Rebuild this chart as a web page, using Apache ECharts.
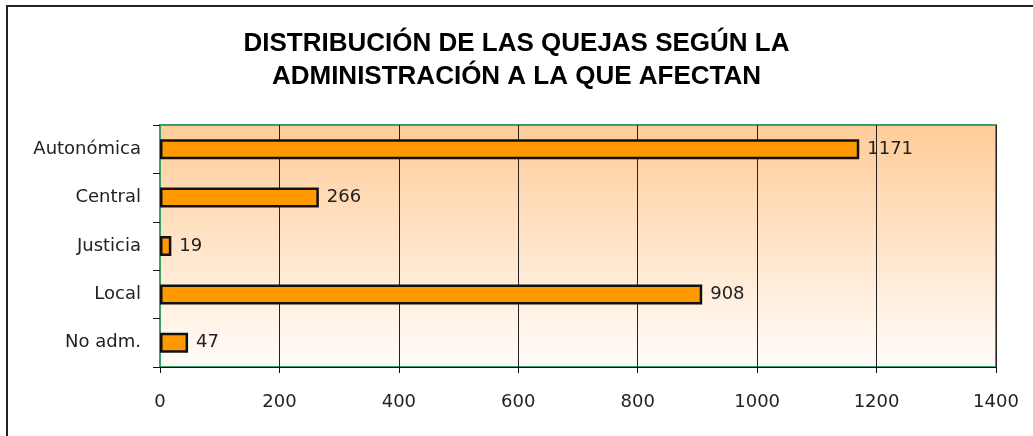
<!DOCTYPE html>
<html>
<head>
<meta charset="utf-8">
<script src="https://cdn.jsdelivr.net/npm/echarts@6/dist/echarts.min.js"></script>
<style>
  html, body { margin: 0; padding: 0; background: #fff; }
  #chart { width: 1033px; height: 436px; }
</style>
</head>
<body>
<div id="chart"></div>
<script>
  // datos
  var categorias = ['Autonómica', 'Central', 'Justicia', 'Local', 'No adm.'];
  var quejas = [1171, 266, 19, 908, 47];
  var titulo = 'DISTRIBUCIÓN DE LAS QUEJAS SEGÚN LA\nADMINISTRACIÓN A LA QUE AFECTAN';

  var fuente = 'DejaVu Sans';
  var chart = echarts.init(document.getElementById('chart'));

  chart.setOption({
    animation: false,
    title: {
      text: titulo,
      left: 'center',
      top: 22,
      textStyle: {
        fontFamily: 'Liberation Sans',
        fontWeight: 'bold',
        fontSize: 26,
        lineHeight: 33,
        color: '#000'
      }
    },
    graphic: [{
      // marco exterior (solo se ven arriba y a la izquierda)
      type: 'rect',
      shape: { x: 7, y: 6, width: 1200, height: 600 },
      style: { fill: 'none', stroke: '#222', lineWidth: 2 },
      z: 100
    }],
    grid: {
      left: 160,
      top: 125,
      right: 37,
      bottom: 69,
      show: true,
      borderColor: '#3c9d6a',
      borderWidth: 2,
      backgroundColor: {
        type: 'linear', x: 0, y: 0, x2: 0, y2: 1,
        colorStops: [
          { offset: 0, color: '#ffcc99' },
          { offset: 1, color: '#fffdfb' }
        ]
      }
    },
    xAxis: {
      type: 'value',
      min: 0,
      max: 1400,
      interval: 200,
      axisLine: { show: true, lineStyle: { color: '#111', width: 1 } },
      axisTick: { show: true, length: 6, lineStyle: { color: '#111' } },
      axisLabel: {
        fontFamily: fuente, fontSize: 18, color: '#222', margin: 26,
        formatter: function (v) { return String(v); }
      },
      splitLine: { show: true, lineStyle: { color: '#222', width: 1 } }
    },
    yAxis: {
      type: 'category',
      data: categorias,
      inverse: true,
      axisLine: { show: true, lineStyle: { color: '#3c9d6a', width: 1 } },
      axisTick: { show: true, length: 7, lineStyle: { color: '#111' } },
      axisLabel: { fontFamily: fuente, fontSize: 18, color: '#222', margin: 19 }
    },
    series: [{
      name: 'Quejas',
      type: 'bar',
      data: quejas,
      barWidth: 20,
      itemStyle: { color: '#ff9900', borderColor: '#111', borderWidth: 2.5 },
      label: {
        show: true,
        position: 'right',
        distance: 8,
        fontFamily: fuente,
        fontSize: 18,
        color: '#222'
      }
    }]
  });
</script>
</body>
</html>
